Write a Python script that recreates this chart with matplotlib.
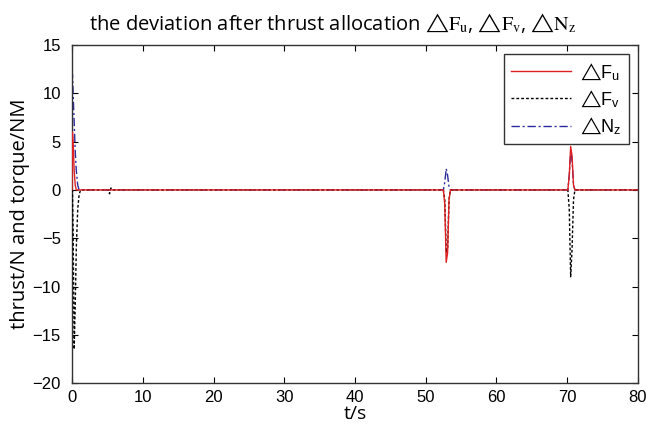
import matplotlib
matplotlib.use("Agg")
import matplotlib.pyplot as plt
import numpy as np

# time samples (s)
t = [0.0, 0.05, 0.15, 0.3, 0.45, 0.6, 0.8, 1.0, 1.2, 5.1, 5.3, 5.5, 5.7,
     52.5, 52.7, 52.9, 53.1, 53.3, 53.5, 70.1, 70.3, 70.5, 70.7, 70.9, 71.1, 80.0]
dFu = [0.0, 6.0, 5.0, 2.0, 0.5, 0.0, 0.0, 0.0, 0.0, 0.0, 0.0, 0.0, 0.0,
       0.0, -1.5, -7.5, -6.5, -1.0, 0.0, 0.0, 1.5, 4.5, 3.5, 0.5, 0.0, 0.0]
dFv = [0.0, 0.0, -4.0, -16.5, -12.0, -6.0, -2.0, -0.5, 0.0, 0.0, -0.4, 0.2, 0.0,
       0.0, -1.0, -6.5, -6.0, -1.0, 0.0, 0.0, -2.0, -9.0, -6.0, -1.0, 0.0, 0.0]
dNz = [0.0, 12.0, 10.0, 7.0, 4.0, 2.0, 0.5, 0.0, 0.0, 0.0, 0.0, 0.0, 0.0,
       0.0, 0.8, 2.2, 1.5, 0.3, 0.0, 0.0, 1.5, 4.0, 3.0, 0.5, 0.0, 0.0]

xticks = [0, 10, 20, 30, 40, 50, 60, 70, 80]
yticks = [-20, -15, -10, -5, 0, 5, 10, 15]

plt.rcParams['mathtext.fontset'] = 'stix'
fig = plt.figure(figsize=(6.61, 4.29), dpi=100)
ax = fig.add_axes([0.109, 0.107, 0.856, 0.788])

ax.plot(t, dNz, color='#2a2a9a', lw=1.0, dashes=(6, 2, 1.5, 2), label=r'$\bigtriangleup$N$_\mathregular{z}$', zorder=2)
ax.plot(t, dFv, color='black', lw=1.0, dashes=(2, 1.5), label=r'$\bigtriangleup$F$_\mathregular{v}$', zorder=3)
ax.plot(t, dFu, color='#e02020', lw=1.0, label=r'$\bigtriangleup$F$_\mathregular{u}$', zorder=4)

ax.set_xlim(0, 80)
ax.set_ylim(-20, 15)
ax.set_xticks(xticks)
ax.set_yticks(yticks)
ax.tick_params(direction='in', length=4, labelsize=12, top=True, right=True)
ax.tick_params(axis='x', pad=5)
ax.tick_params(axis='y', pad=8)
for lab in ax.get_xticklabels() + ax.get_yticklabels():
    lab.set_family('Liberation Sans')
for s in ax.spines.values():
    s.set_color('#333333')
    s.set_linewidth(1.0)

ax.set_xlabel('t/s', fontsize=14, family='Open Sans', labelpad=0)
ax.set_ylabel('thrust/N and torque/NM', fontsize=14.5, family='Open Sans', labelpad=2)
ax.set_title(r'the deviation after thrust allocation $\bigtriangleup\mathrm{F}_\mathrm{u}$, $\bigtriangleup\mathrm{F}_\mathrm{v}$, $\bigtriangleup\mathrm{N}_\mathrm{z}$',
             fontsize=14.5, family='Open Sans', pad=11, x=0.46)

handles, labels = ax.get_legend_handles_labels()
order = [2, 1, 0]
leg = ax.legend([handles[i] for i in order], [labels[i] for i in order],
                loc='upper right', frameon=True, fancybox=False,
                edgecolor='black', handlelength=3.3, borderaxespad=0.5,
                labelspacing=0.35, handletextpad=0.5,
                prop={'family': 'Liberation Sans', 'size': 13})
leg.get_frame().set_linewidth(1.0)

fig.savefig('out.png', dpi=100)
